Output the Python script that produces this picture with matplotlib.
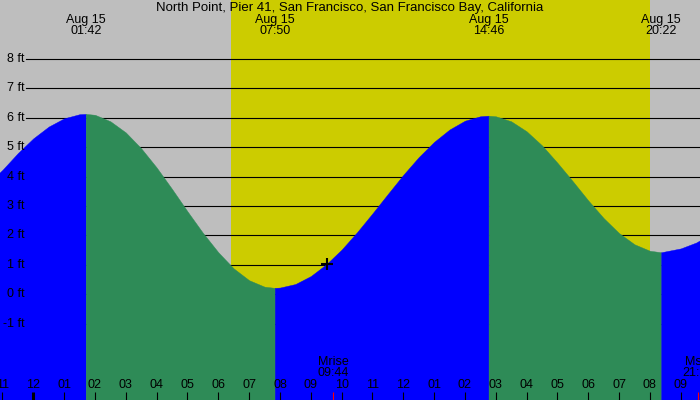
import matplotlib
matplotlib.use('Agg')
import matplotlib.pyplot as plt
import numpy as np

title = "North Point, Pier 41, San Francisco, San Francisco Bay, California"

# tide heights (ft), hours since midnight Aug 15
tide_hours = [-1.1, -1.0, -0.5, 0.0, 0.5, 1.0, 1.5, 1.7,
              2.0, 2.5, 3.0, 3.5, 4.0, 4.5, 5.0, 5.5, 6.0, 6.5, 7.0, 7.5, 7.8333,
              8.0, 8.5, 9.0, 9.5, 10.0, 10.5, 11.0, 11.5, 12.0, 12.5, 13.0, 13.5, 14.0, 14.5, 14.7667,
              15.0, 15.5, 16.0, 16.5, 17.0, 17.5, 18.0, 18.5, 19.0, 19.5, 20.0, 20.3667,
              21.0, 21.5, 21.7]
tide_ft = [4.13, 4.23, 4.80, 5.30, 5.70, 5.98, 6.12, 6.13,
           6.10, 5.88, 5.50, 4.96, 4.31, 3.58, 2.82, 2.09, 1.43, 0.88, 0.48, 0.26, 0.22,
           0.23, 0.35, 0.62, 1.02, 1.52, 2.11, 2.75, 3.41, 4.06, 4.66, 5.18, 5.60, 5.90, 6.05, 6.07,
           6.05, 5.88, 5.54, 5.06, 4.47, 3.84, 3.19, 2.59, 2.08, 1.70, 1.48, 1.43,
           1.56, 1.76, 1.88]

extreme_date = "Aug 15"
extreme_times = ["01:42", "07:50", "14:46", "20:22"]

sunrise = "06:25"
sunset = "20:00"
moonrise = "09:44"
moonset = "21:34"

marker_hour = 9.52
marker_ft = 1.02

hour_ticks = list(range(-1, 22))
hour_labels = ["11", "12", "01", "02", "03", "04", "05", "06", "07", "08", "09", "10",
               "11", "12", "01", "02", "03", "04", "05", "06", "07", "08", "09"]
y_ticks = [-1, 0, 1, 2, 3, 4, 5, 6, 7, 8]

GRAY = '#bebebe'
YELLOW = '#cccc00'
BLUE = '#0000ff'
GREEN = '#2e8b57'
FONT = 'Liberation Sans'
FS = 9.0
FS_TITLE = 9.5


def hrs(s):
    h, m = s.split(':')
    return int(h) + int(m) / 60.0


W, H = 700, 400
fig = plt.figure(figsize=(W / 100, H / 100), dpi=100)
fig.patch.set_facecolor(GRAY)
ax = fig.add_axes([0, 0, 1, 1])
ax.axis('off')
x0, x1 = -1.08, 21.625
y0, y1 = -3.59, 10.0
ax.set_xlim(x0, x1)
ax.set_ylim(y0, y1)
px_ft = H / (y1 - y0)

# daylight
ax.axvspan(hrs(sunrise), hrs(sunset), color=YELLOW, lw=0, zorder=0)

# grid lines
for y in y_ticks:
    ax.axhline(y, xmin=26 / W, xmax=1, color='black', lw=0.8, zorder=1)

# tide fill, coloured by rising / falling
t = np.array(tide_hours)
h = np.array(tide_ft)
bounds = [t[0]] + [hrs(s) for s in extreme_times] + [t[-1]]
for a, b in zip(bounds[:-1], bounds[1:]):
    m = (t >= a - 1e-3) & (t <= b + 1e-3)
    ts, hs = t[m], h[m]
    col = BLUE if hs[-1] > hs[0] else GREEN
    ax.fill_between(ts, y0 - 1, hs, color=col, lw=0.3, ec=col, zorder=2)

# marker
ax.plot([marker_hour], [marker_ft], marker='+', color='black', ms=8, mew=1.5, zorder=4)

# y labels
ytr = ax.get_yaxis_transform()
for y in y_ticks:
    ax.text(24.5 / W, y, f"{y} ft", transform=ytr, ha='right', va='center',
            fontsize=FS, family=FONT, color='black', zorder=5)

xtr = ax.get_xaxis_transform()
# title
ax.text(0.5, 1 - 7.5 / H, title, transform=ax.transAxes, ha='center', va='center',
        fontsize=FS_TITLE, family=FONT, zorder=5)
# extremes labels
for s in extreme_times:
    x = hrs(s)
    ax.text(x, 1 - 19.5 / H, extreme_date, transform=xtr, ha='center', va='center',
            fontsize=FS, family=FONT, zorder=5)
    ax.text(x, 1 - 31.5 / H, s, transform=xtr, ha='center', va='center',
            fontsize=FS, family=FONT, zorder=5)

# hour ticks
tick_len = 8 / px_ft
for hr, lab in zip(hour_ticks, hour_labels):
    lw = 2.2 if hr % 24 == 0 else 0.8
    ax.vlines(hr, y0, y0 + tick_len, color='black', lw=lw, zorder=5)
    ax.text(hr, (H - 385.5) / H, lab, transform=xtr, ha='center', va='center',
            fontsize=FS, family=FONT, zorder=5)

# moon
for name, s in [("Mrise", moonrise), ("Mset", moonset)]:
    x = hrs(s)
    ax.vlines(x, y0, y0 + tick_len, color='red', lw=0.8, zorder=5)
    ax.text(x, (H - 361.7) / H, name, transform=xtr, ha='center', va='center',
            fontsize=FS, family=FONT, zorder=5)
    ax.text(x, (H - 373.3) / H, s, transform=xtr, ha='center', va='center',
            fontsize=FS, family=FONT, zorder=5)

fig.savefig('out.png', dpi=100, facecolor=fig.get_facecolor())
